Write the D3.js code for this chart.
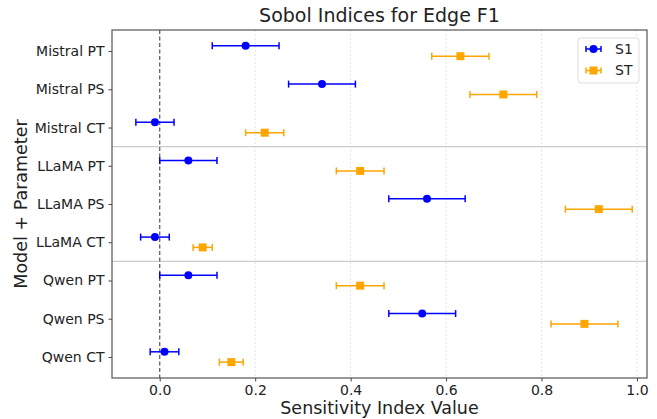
<!DOCTYPE html>
<html>
<head>
<meta charset="utf-8">
<script src="https://cdn.jsdelivr.net/npm/d3@7"></script>
<style>
  body { margin: 0; background: #fff; }
  text { font-family: "DejaVu Sans", sans-serif; }
</style>
</head>
<body>
<div id="chart"></div>
<script>
// categories, top to bottom
const labels = ["Mistral PT", "Mistral PS", "Mistral CT",
                "LLaMA PT", "LLaMA PS", "LLaMA CT",
                "Qwen PT", "Qwen PS", "Qwen CT"];

// first-order indices with confidence bounds
const s1Value = [0.18, 0.34, -0.01, 0.06, 0.56, -0.01, 0.06, 0.55, 0.01];
const s1Low   = [0.11, 0.27, -0.05, 0.00, 0.48, -0.04, 0.00, 0.48, -0.02];
const s1High  = [0.25, 0.41, 0.03, 0.12, 0.64, 0.02, 0.12, 0.62, 0.04];

// total-order indices with confidence bounds
const stValue = [0.63, 0.72, 0.22, 0.42, 0.92, 0.09, 0.42, 0.89, 0.15];
const stLow   = [0.57, 0.65, 0.18, 0.37, 0.85, 0.07, 0.37, 0.82, 0.125];
const stHigh  = [0.69, 0.79, 0.26, 0.47, 0.99, 0.11, 0.47, 0.96, 0.175];

const xTicks = [0.0, 0.2, 0.4, 0.6, 0.8, 1.0];
const groupBreaks = [2.5, 5.5];

const width = 657, height = 419;
const margin = {top: 30, right: 10, bottom: 41, left: 112};
const innerW = width - margin.left - margin.right,
      innerH = height - margin.top - margin.bottom;

const svg = d3.select("#chart").append("svg")
    .attr("width", width)
    .attr("height", height);

const g = svg.append("g")
    .attr("transform", "translate(" + margin.left + "," + margin.top + ")");

const x = d3.scaleLinear().domain([-0.1, 1.021]).range([0, innerW]);
const y = d3.scaleLinear().domain([-0.55, labels.length - 1 + 0.55]).range([0, innerH]);
const off = 0.135;

// grid
g.selectAll(".grid")
  .data(xTicks.filter(d => d !== 0))
  .enter().append("line")
    .attr("x1", d => x(d)).attr("x2", d => x(d))
    .attr("y1", 0).attr("y2", innerH)
    .attr("stroke", "#dddddd")
    .attr("stroke-width", 0.8)
    .attr("stroke-dasharray", "2,2");

// group separators
g.selectAll(".sep")
  .data(groupBreaks)
  .enter().append("line")
    .attr("x1", 0).attr("x2", innerW)
    .attr("y1", d => y(d)).attr("y2", d => y(d))
    .attr("stroke", "#cccccc")
    .attr("stroke-width", 1.2);

// zero line
g.append("line")
    .attr("x1", x(0)).attr("x2", x(0))
    .attr("y1", 0).attr("y2", innerH)
    .attr("stroke", "#555555")
    .attr("stroke-width", 1.2)
    .attr("stroke-dasharray", "4,2.5");

// axes
const xAxis = g.append("g")
    .attr("transform", "translate(0," + innerH + ")")
    .call(d3.axisBottom(x).tickValues(xTicks).tickFormat(d3.format(".1f")).tickSizeOuter(0).tickSize(3.5).tickPadding(4));
const yAxis = g.append("g")
    .call(d3.axisLeft(y).tickValues(d3.range(labels.length)).tickFormat(i => labels[i]).tickSizeOuter(0).tickSize(3.5).tickPadding(4));

[xAxis, yAxis].forEach(a => {
    a.select(".domain").remove();
    a.selectAll(".tick line").attr("stroke", "#444");
    a.selectAll(".tick text").attr("font-size", 14).attr("fill", "#222")
        .style("font-family", "DejaVu Sans, sans-serif");
});

// frame
g.append("rect")
    .attr("width", innerW).attr("height", innerH)
    .attr("fill", "none")
    .attr("stroke", "#555")
    .attr("stroke-width", 1.2);

// error bars
function drawSeries(vals, lo, hi, dy, color, shape) {
    const rows = vals.map((v, i) => ({i, v, lo: lo[i], hi: hi[i]}));
    const s = g.append("g");
    const cap = 3.5;
    s.selectAll(".bar").data(rows).enter().append("line")
        .attr("x1", d => x(d.lo)).attr("x2", d => x(d.hi))
        .attr("y1", d => y(d.i + dy)).attr("y2", d => y(d.i + dy))
        .attr("stroke", color).attr("stroke-width", 1.5);
    ["lo", "hi"].forEach(k => {
        s.selectAll(".cap" + k).data(rows).enter().append("line")
            .attr("x1", d => x(d[k])).attr("x2", d => x(d[k]))
            .attr("y1", d => y(d.i + dy) - cap).attr("y2", d => y(d.i + dy) + cap)
            .attr("stroke", color).attr("stroke-width", 1.5);
    });
    if (shape === "circle") {
        s.selectAll(".pt").data(rows).enter().append("circle")
            .attr("cx", d => x(d.v)).attr("cy", d => y(d.i + dy))
            .attr("r", 4).attr("fill", color);
    } else {
        s.selectAll(".pt").data(rows).enter().append("rect")
            .attr("x", d => x(d.v) - 4).attr("y", d => y(d.i + dy) - 4)
            .attr("width", 8).attr("height", 8).attr("fill", color);
    }
}
drawSeries(s1Value, s1Low, s1High, -off, "#0000ff", "circle");
drawSeries(stValue, stLow, stHigh, off, "#ffa500", "square");

// legend
const leg = g.append("g").attr("transform", "translate(" + (innerW - 69) + ",8)");
leg.append("rect")
    .attr("width", 61).attr("height", 45).attr("rx", 3)
    .attr("fill", "white").attr("fill-opacity", 0.8)
    .attr("stroke", "#dddddd");
[["S1", "#0000ff", "circle"], ["ST", "#ffa500", "square"]].forEach((e, k) => {
    const ly = 11 + k * 21.5;
    const item = leg.append("g");
    item.append("line").attr("x1", 8).attr("x2", 23).attr("y1", ly).attr("y2", ly)
        .attr("stroke", e[1]).attr("stroke-width", 1.5);
    [8, 23].forEach(cx => item.append("line").attr("x1", cx).attr("x2", cx)
        .attr("y1", ly - 3).attr("y2", ly + 3).attr("stroke", e[1]).attr("stroke-width", 1.5));
    if (e[2] === "circle") item.append("circle").attr("cx", 15.5).attr("cy", ly).attr("r", 4).attr("fill", e[1]);
    else item.append("rect").attr("x", 11.5).attr("y", ly - 4).attr("width", 8).attr("height", 8).attr("fill", e[1]);
    item.append("text").attr("x", 37).attr("y", ly).attr("dy", "0.35em")
        .attr("font-size", 14).attr("fill", "#222").text(e[0]);
});

// title and axis labels
svg.append("text")
    .attr("x", margin.left + innerW / 2).attr("y", 22)
    .attr("text-anchor", "middle").attr("font-size", 19).attr("fill", "#222")
    .text("Sobol Indices for Edge F1");
svg.append("text")
    .attr("x", margin.left + innerW / 2).attr("y", 414)
    .attr("text-anchor", "middle").attr("font-size", 17.5).attr("fill", "#222")
    .text("Sensitivity Index Value");
svg.append("text")
    .attr("transform", "translate(27," + (margin.top + innerH / 2) + ") rotate(-90)")
    .attr("text-anchor", "middle").attr("font-size", 17.5).attr("fill", "#222")
    .text("Model + Parameter");
</script>
</body>
</html>
